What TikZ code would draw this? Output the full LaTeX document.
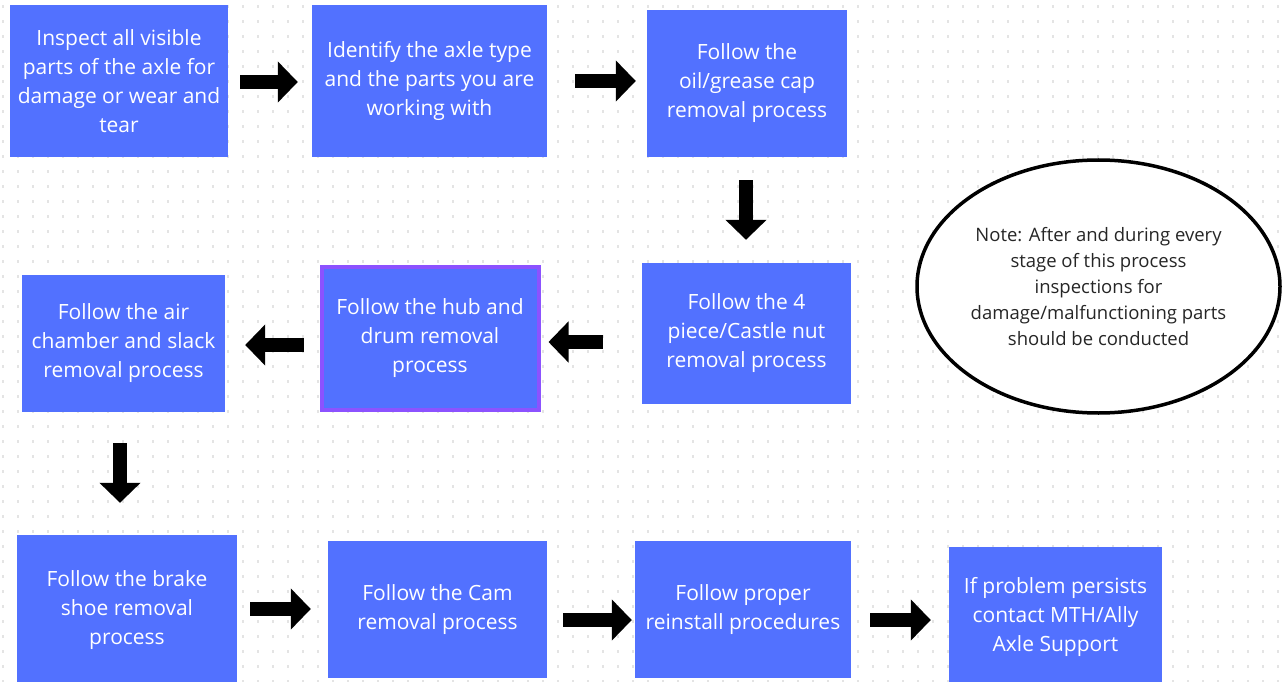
\documentclass[tikz,border=0pt]{standalone}
\usepackage{fontspec}
\setmainfont{Open Sans}
\usetikzlibrary{arrows.meta,shapes.geometric,calc}
\definecolor{boxblue}{HTML}{5271FF}
\definecolor{hubpurple}{HTML}{8C52FF}
\definecolor{dotgray}{HTML}{E4E4E4}
\tikzset{
  stepbox/.style={rectangle, fill=boxblue, text=white, align=center, inner sep=0pt,
    font=\fontsize{21}{29}\selectfont},
  blk/.style={line width=14pt, -{Triangle[length=20pt,width=40pt]}},
  notebox/.style={ellipse, draw=black, line width=3.5pt, fill=white, align=center, inner sep=0pt,
    text=black!85, font=\fontsize{18.5}{26}\selectfont},
}
\begin{document}
\begin{tikzpicture}[x=1pt,y=-1pt]
\useasboundingbox (0,0) rectangle (1283,682);
\fill[white] (0,0) rectangle (1283,682);
% dot grid
\foreach \i in {0,...,85} {
  \foreach \j in {0,...,45} {
    \fill[dotgray] ({3+15*\i-1.3},{6.7+15*\j-1.3}) rectangle ++(2.6,2.6);
  }
}
% boxes
\node[stepbox, minimum width=218pt, minimum height=152pt] (b1) at (119,81)
  {Inspect all visible\\parts of the axle for\\damage or wear and\\tear};
\node[stepbox, minimum width=235pt, minimum height=152pt] (b2) at (429.5,81)
  {Identify the axle type\\and the parts you are\\working with};
\node[stepbox, minimum width=200pt, minimum height=147pt] (b3) at (747,83.5)
  {Follow the\\oil/grease cap\\removal process};
\node[stepbox, minimum width=209pt, minimum height=141pt] (b4) at (746.5,333.5)
  {Follow the 4\\piece/Castle nut\\removal process};
\node[stepbox, draw=hubpurple, line width=4pt, minimum width=217pt, minimum height=143pt] (b5) at (430,338)
  {Follow the hub and\\drum removal\\process};
\node[stepbox, minimum width=203pt, minimum height=137pt] (b6) at (123.5,343.5)
  {Follow the air\\chamber and slack\\removal process};
\node[stepbox, minimum width=220pt, minimum height=150pt] (b7) at (127,610)
  {Follow the brake\\shoe removal\\process};
\node[stepbox, minimum width=219pt, minimum height=137pt] (b8) at (437.5,609.5)
  {Follow the Cam\\removal process};
\node[stepbox, minimum width=216pt, minimum height=137pt] (b9) at (743,609.5)
  {Follow proper\\reinstall procedures};
\node[stepbox, minimum width=213pt, minimum height=140pt] (b10) at (1055.5,617)
  {If problem persists\\contact MTH/Ally\\Axle Support};
% note
\node[notebox, minimum width=363pt, minimum height=253pt] (note) at (1098.5,286.5)
  {Note: After and during every\\stage of this process\\inspections for\\damage/malfunctioning parts\\should be conducted};
% arrow levels
\coordinate (r1) at (0,82);
\coordinate (r2) at (0,81);
\coordinate (c3) at (746,0);
\coordinate (r4) at (0,342);
\coordinate (r5) at (0,345);
\coordinate (c6) at (120,0);
\coordinate (r7) at (0,609);
\coordinate (r8) at (0,620);
% connectors
\draw[blk, shorten <=12pt, shorten >=14pt] (b1.east |- r1) -- (b2.west |- r1);
\draw[blk, shorten <=28pt, shorten >=11pt] (b2.east |- r2) -- (b3.west |- r2);
\draw[blk, shorten <=23pt, shorten >=23pt] (b3.south -| c3) -- (b4.north -| c3);
\draw[blk, shorten <=39pt, shorten >=8pt] (b4.west |- r4) -- (b5.east |- r4);
\draw[blk, shorten <=16pt, shorten >=20pt] (b5.west |- r5) -- (b6.east |- r5);
\draw[blk, shorten <=31pt, shorten >=32pt] (b6.south -| c6) -- (b7.north -| c6);
\draw[blk, shorten <=13pt, shorten >=17pt] (b7.east |- r7) -- (b8.west |- r7);
\draw[blk, shorten <=16pt, shorten >=3pt] (b8.east |- r8) -- (b9.west |- r8);
\draw[blk, shorten <=19pt, shorten >=18pt] (b9.east |- r8) -- (b10.west |- r8);
\end{tikzpicture}
\end{document}
